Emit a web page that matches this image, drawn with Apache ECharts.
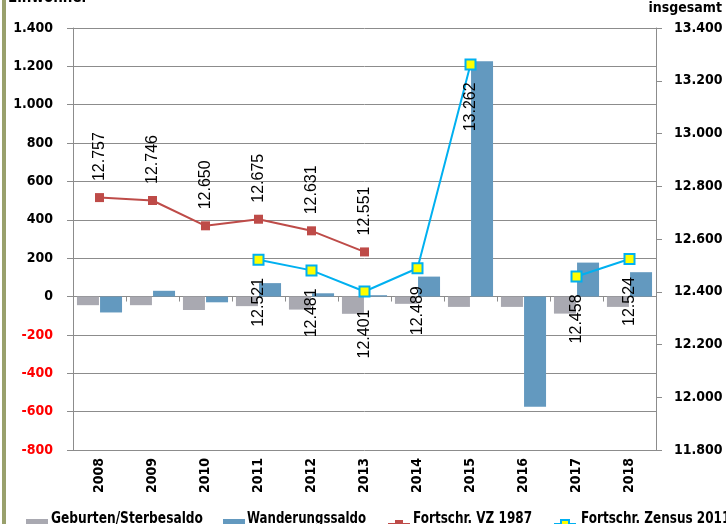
<!DOCTYPE html>
<html><head><meta charset="utf-8">
<script src="https://cdn.jsdelivr.net/npm/echarts@6/dist/echarts.min.js"></script>
<style>html,body{margin:0;padding:0;background:#fff}#c{width:726px;height:524px}</style>
</head><body><div id="c"></div>
<script>
const years = ['2008','2009','2010','2011','2012','2013','2014','2015','2016','2017','2018'];
const geburtenSaldo = [-45,-45,-70,-50,-68,-90,-38,-54,-54,-89,-54];
const wanderungsSaldo = [-83,30,-30,70,17,7,104,1227,-575,177,127];
const vz1987 = [12757,12746,12650,12675,12631,12551,null,null,null,null,null];
const zensus2011 = [null,null,null,12521,12481,12401,12489,13262,null,12458,12524];
const leftTicks = {min:-800,max:1400,interval:200};
const rightTicks = {min:11800,max:13400,interval:200};
const seriesNames = ['Geburten/Sterbesaldo','Wanderungssaldo','Fortschr. VZ 1987','Fortschr. Zensus 2011'];

const FONT = "'DejaVu Sans Condensed','Liberation Sans',sans-serif";
const fmt = v => { const s = Math.abs(v).toString().replace(/\B(?=(\d{3})+(?!\d))/g,'.'); return (v<0?'-':'')+s; };

// legend layout (icon left positions, text left positions, target text widths)
const legIconX = [26, 223, 387, 553];
const legTextX = [51, 247, 413, 581];
const legTextW = [152, 119, 119, null];
const legFont = "bold 15px " + FONT;
const mctx = document.createElement('canvas').getContext('2d');
mctx.font = legFont;
const vzScale = legTextW[2] / mctx.measureText(seriesNames[2]).width;
const legendTexts = seriesNames.map((n, i) => {
  const w = mctx.measureText(n).width;
  const sx = legTextW[i] ? legTextW[i] / w : vzScale;
  return {type:'text', x:legTextX[i], y:519, scaleX:sx, originX:0, originY:0,
          style:{text:n, font:legFont, fill:'#000', align:'left', verticalAlign:'middle'}};
});

const chart = echarts.init(document.getElementById('c'), null, {renderer:'canvas'});
const legendBase = {orient:'horizontal', top:519, padding:0, itemWidth:22, itemHeight:10, itemGap:0,
  formatter:()=>' ', textStyle:{fontSize:10}};
chart.setOption({
  animation:false,
  textStyle:{fontFamily:FONT},
  grid:{left:73,right:70,top:28,bottom:74},
  graphic:[
    {type:'rect', left:2, top:0, shape:{width:4,height:524}, style:{fill:'#99a06c'}, z:100},
    {type:'text', left:8, top:-9, style:{text:'Einwohner', font:"bold 15px "+FONT, fill:'#000'}},
    {type:'text', right:4, top:1, style:{text:'insgesamt', font:"bold 14px "+FONT, fill:'#000'}}
  ].concat(legendTexts),
  legend:seriesNames.map((n, i) => Object.assign({}, legendBase,
    {left:legIconX[i], data:[i < 2 ? {name:n, icon:'rect'} : n]})),
  xAxis:[
    {type:'category', data:years, position:'bottom', axisLine:{show:false, onZero:false}, axisTick:{show:false},
     axisLabel:{rotate:90, margin:8, fontFamily:FONT, fontWeight:'bold', fontSize:14, color:'#000'}},
    {type:'category', data:years, position:'bottom', axisLine:{show:true, onZero:true, lineStyle:{color:'#8c8c8c'}},
     axisTick:{show:true, length:5, lineStyle:{color:'#8c8c8c'}}, axisLabel:{show:false}}
  ],
  yAxis:[
    {type:'value', min:leftTicks.min, max:leftTicks.max, interval:leftTicks.interval, position:'left',
     axisLine:{show:true, lineStyle:{color:'#8c8c8c'}}, axisTick:{show:true, length:6, lineStyle:{color:'#8c8c8c'}},
     splitLine:{lineStyle:{color:'#8c8c8c'}},
     axisLabel:{margin:20, fontFamily:FONT, fontWeight:'bold', fontSize:14, formatter:fmt,
       color:(v)=> (Number(v)<0 ? '#ff0000' : '#000')}},
    {type:'value', min:rightTicks.min, max:rightTicks.max, interval:rightTicks.interval, position:'right',
     axisLine:{show:true, lineStyle:{color:'#8c8c8c'}}, axisTick:{show:true, length:6, lineStyle:{color:'#8c8c8c'}},
     splitLine:{show:false},
     axisLabel:{margin:18, fontFamily:FONT, fontWeight:'bold', fontSize:14, color:'#000', formatter:fmt}}
  ],
  series:[
    {name:seriesNames[0], type:'bar', data:geburtenSaldo, barWidth:22, barGap:'5%',
     itemStyle:{color:'#a9a9b1'}},
    {name:seriesNames[1], type:'bar', data:wanderungsSaldo, barWidth:22, barGap:'5%',
     itemStyle:{color:'#6399bf'}},
    {name:seriesNames[2], type:'line', yAxisIndex:1, data:vz1987, symbol:'rect', symbolSize:9,
     lineStyle:{color:'#be4b48', width:2}, itemStyle:{color:'#be4b48'},
     label:{show:true, position:'top', distance:12, rotate:90, align:'left', verticalAlign:'middle',
       fontFamily:"'Liberation Sans',Arial,sans-serif", fontSize:16, color:'#000', formatter:p=>fmt(p.value)}},
    {name:seriesNames[3], type:'line', yAxisIndex:1, data:zensus2011, connectNulls:false,
     symbol:'rect', symbolSize:10, showAllSymbol:true,
     lineStyle:{color:'#00b0f0', width:2}, itemStyle:{color:'#ffff00', borderColor:'#00b0f0', borderWidth:2},
     label:{show:true, position:'bottom', distance:12, rotate:90, align:'right', verticalAlign:'middle',
       fontFamily:"'Liberation Sans',Arial,sans-serif", fontSize:16, color:'#000', formatter:p=>fmt(p.value)}}
  ]
});
</script></body></html>
